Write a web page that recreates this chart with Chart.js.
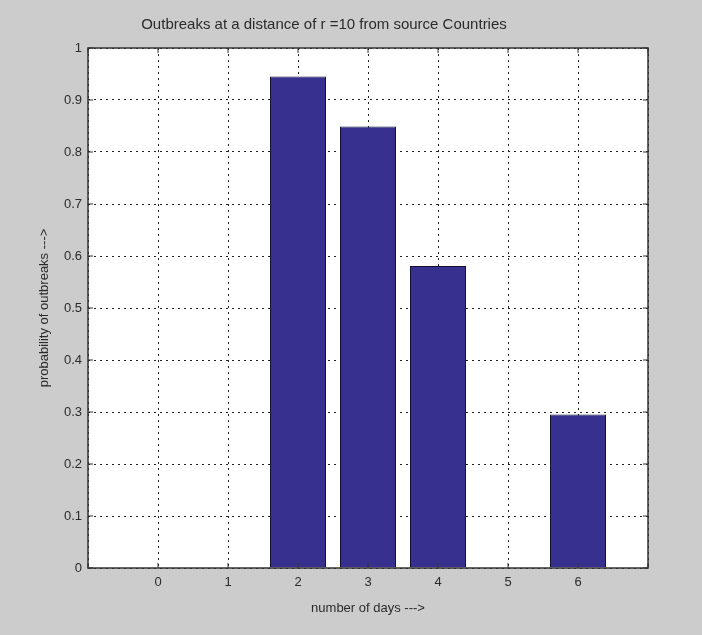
<!DOCTYPE html>
<html lang="en">
<head>
    <meta charset="UTF-8">
    <title>Outbreaks at a distance of r =10</title>
    <script src="https://cdn.jsdelivr.net/npm/chart.js"></script>
    <style>
        html, body {
            margin: 0;
            padding: 0;
            background: #cccccc;
        }

        .chart-box {
            width: 702px;
            height: 635px;
        }
    </style>
</head>
<body>
    <div class="chart-box">
        <canvas id="outbreakChart"></canvas>
    </div>

    <script>
        // data
        const days = ['0', '1', '2', '3', '4', '5', '6'];
        const probabilities = [0, 0, 0.945, 0.849, 0.581, 0, 0.295];
        const yTicks = [0, 0.1, 0.2, 0.3, 0.4, 0.5, 0.6, 0.7, 0.8, 0.9, 1];

        const barColor = '#38308f';
        const labelFont = { family: 'Liberation Sans', size: 13 };

        // grey figure, white axes, box frame with inward ticks (matlab look)
        const matlabFrame = {
            id: 'matlabFrame',
            beforeDraw(chart) {
                const { ctx, chartArea: a } = chart;
                ctx.save();
                ctx.fillStyle = '#cccccc';
                ctx.fillRect(0, 0, chart.width, chart.height);
                ctx.fillStyle = '#ffffff';
                ctx.fillRect(a.left, a.top, a.right - a.left, a.bottom - a.top);
                ctx.restore();
            },
            afterDraw(chart) {
                const { ctx, chartArea: a, scales } = chart;
                ctx.save();
                ctx.strokeStyle = '#333333';
                ctx.lineWidth = 1.5;
                ctx.strokeRect(a.left, a.top, a.right - a.left, a.bottom - a.top);
                ctx.lineWidth = 1;
                ctx.beginPath();
                for (let i = -1; i <= days.length; i++) {
                    const x = scales.x.getPixelForValue(i);
                    ctx.moveTo(x, a.top); ctx.lineTo(x, a.top + 5);
                    ctx.moveTo(x, a.bottom); ctx.lineTo(x, a.bottom - 5);
                }
                yTicks.forEach(v => {
                    const y = scales.y.getPixelForValue(v);
                    ctx.moveTo(a.left, y); ctx.lineTo(a.left + 5, y);
                    ctx.moveTo(a.right, y); ctx.lineTo(a.right - 5, y);
                });
                ctx.stroke();
                ctx.restore();
            }
        };

        const ctx = document.getElementById('outbreakChart').getContext('2d');
        new Chart(ctx, {
            type: 'bar',
            data: {
                datasets: [{
                    data: days.map((d, i) => ({ x: i, y: probabilities[i] })),
                    backgroundColor: barColor,
                    borderColor: '#111133',
                    borderWidth: 1,
                    barPercentage: 0.8,
                    categoryPercentage: 1
                }]
            },
            options: {
                responsive: true,
                maintainAspectRatio: false,
                animation: false,
                layout: { padding: { left: 0, right: 54, top: 0, bottom: 0 } },
                plugins: {
                    legend: { display: false },
                    tooltip: { enabled: false },
                    title: {
                        display: true,
                        text: 'Outbreaks at a distance of r =10 from source Countries',
                        color: '#2b2b2b',
                        font: { family: 'Liberation Sans', size: 15, weight: 'normal' },
                        padding: { top: 16, bottom: 14 }
                    }
                },
                scales: {
                    x: {
                        type: 'linear',
                        offset: false,
                        min: -1,
                        max: 7,
                        afterFit: s => { s.height = 67; },
                        afterBuildTicks: s => {
                            s.ticks = [-1, 0, 1, 2, 3, 4, 5, 6, 7].map(v => ({ value: v }));
                        },
                        ticks: {
                            padding: 7,
                            color: '#2b2b2b',
                            font: labelFont,
                            maxRotation: 0,
                            autoSkip: false,
                            callback: v => days[v] !== undefined ? days[v] : ''
                        },
                        grid: { color: '#222222', lineWidth: 1, drawTicks: false, offset: false },
                        border: { display: false, dash: [2, 4] },
                        title: {
                            display: true,
                            text: 'number of days --->',
                            color: '#2b2b2b',
                            font: labelFont,
                            padding: { top: 4, bottom: 19 }
                        }
                    },
                    y: {
                        min: 0,
                        max: 1,
                        afterFit: s => { s.width = 88; },
                        afterBuildTicks: s => {
                            s.ticks = yTicks.map(v => ({ value: v }));
                        },
                        ticks: {
                            padding: 6,
                            color: '#2b2b2b',
                            font: labelFont,
                            callback: v => String(Math.round(v * 10) / 10)
                        },
                        grid: { color: '#222222', lineWidth: 1, drawTicks: false },
                        border: { display: false, dash: [2, 4] },
                        title: {
                            display: true,
                            text: 'probability of outbreaks --->',
                            color: '#2b2b2b',
                            font: labelFont,
                            padding: { top: 37, bottom: 0 }
                        }
                    }
                }
            },
            plugins: [matlabFrame]
        });
    </script>
</body>
</html>
